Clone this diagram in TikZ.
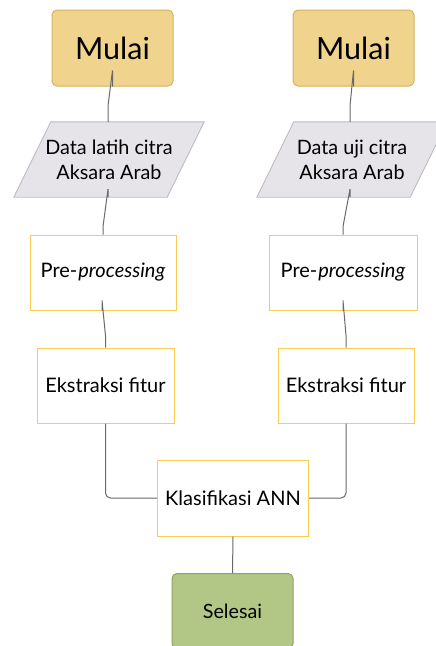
\documentclass[tikz,border=0pt]{standalone}
\usepackage{fontspec}
\setmainfont{Lato}
\usetikzlibrary{calc}

\definecolor{startfill}{RGB}{240,211,141}
\definecolor{startline}{RGB}{214,178,92}
\definecolor{datafill}{RGB}{230,228,232}
\definecolor{dataline}{RGB}{188,188,192}
\definecolor{procline}{RGB}{250,202,84}
\definecolor{endfill}{RGB}{178,199,134}
\definecolor{endline}{RGB}{138,166,88}
\definecolor{wire}{RGB}{105,105,105}

\tikzset{
  terminal/.style={draw=startline, fill=startfill, line width=1pt, rounded corners=5pt,
    minimum width=121pt, minimum height=76pt, inner sep=0pt,
    font=\fontsize{30.5}{33}\selectfont},
  endterminal/.style={terminal, draw=endline, fill=endfill, font=\fontsize{19.7}{22}\selectfont},
  databox/.style={minimum width=153pt, minimum height=75pt, inner sep=0pt, align=center,
    font=\fontsize{19.8}{25}\selectfont},
  procbox/.style={draw=procline, fill=white, line width=1pt, minimum height=75pt,
    inner sep=0pt, font=\fontsize{20}{22}\selectfont},
  wireline/.style={draw=wire, line width=1pt},
}

\begin{document}
\begin{tikzpicture}[x=1pt, y=-1pt]
\useasboundingbox (0,0) rectangle (436,646);
\clip (0,0) rectangle (436,646);

% start terminals
\node[terminal] (m1) at (112.5,48) {Mulai};
\node[terminal] (m2) at (353.5,48) {Mulai};

% input data (parallelograms drawn around plain nodes)
\node[databox] (d1) at (109,159.5) {};
\node[databox] (d2) at (352,159.5) {};
\foreach \n in {d1,d2}{
  \draw[draw=dataline, fill=datafill, line width=0.9pt]
    ($(\n.north west)+(18.5,0)$) -- ($(\n.north east)+(18.5,0)$) --
    ($(\n.south east)+(-18.5,0)$) -- ($(\n.south west)+(-18.5,0)$) -- cycle;
}
\node[databox] at (d1) {Data latih citra\\Aksara Arab};
\node[databox] at (d2) {Data uji citra\\Aksara Arab};

% processing steps
\node[procbox, minimum width=146pt] (p1) at (103,272.5) {Pre-\kern1pt\textit{processing}};
\node[procbox, minimum width=148pt] (p2) at (343,272.5) {Pre-\kern1pt\textit{processing}};
\node[procbox, minimum width=137pt] (e1) at (105.5,385.5) {Ekstraksi fitur};
\node[procbox, minimum width=136pt] (e2) at (346,385.5) {Ekstraksi fitur};
\node[procbox, minimum width=151pt, minimum height=76pt] (k) at (233,498) {Klasifikasi ANN};

% end terminal
\node[endterminal, minimum height=75pt] (s) at (232.5,611) {Selesai};

% connectors
\draw[wireline] (m1.south) -- ++(0,-16) -- ([yshift=16pt]$(d1.north)+(-1,0)$) -- ($(d1.north)+(-1,0)$);
\draw[wireline] (m2.south) -- ++(0,-16) -- ([yshift=16pt]$(d2.north)+(-2,0)$) -- ($(d2.north)+(-2,0)$);
\draw[wireline] ($(d1.south)+(-1,0)$) -- ++(0,-8) -- ([yshift=8pt]p1.north) -- (p1.north);
\draw[wireline] ($(d2.south)+(-2,0)$) -- ++(0,-8) -- ([yshift=8pt]p2.north) -- (p2.north);
\draw[wireline] ($(p1.south)+(-1,0)$) -- ++(0,-10) -- ([yshift=12pt]e1.north) -- (e1.north);
\draw[wireline] (p2.south) -- ++(0,-10) -- ([yshift=12pt]e2.north) -- (e2.north);
\draw[wireline, rounded corners=5pt] (e1.south) |- (k.west);
\draw[wireline, rounded corners=5pt] (e2.south) |- (k.east);
\draw[wireline] (k.south) -- (s.north);
\end{tikzpicture}
\end{document}
